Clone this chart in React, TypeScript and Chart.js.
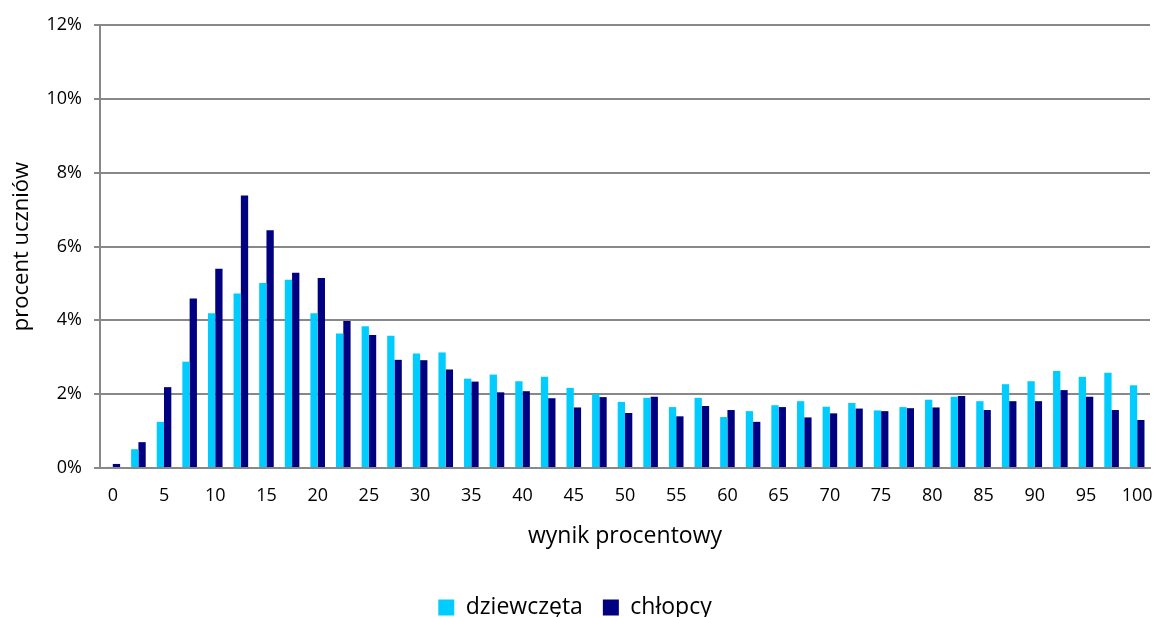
import React, { useEffect, useRef } from "react";
import { Chart, registerables } from "chart.js";

Chart.register(...registerables);

const categories: string[] = [
  "0", "2.5", "5", "7.5", "10", "12.5", "15", "17.5", "20", "22.5",
  "25", "27.5", "30", "32.5", "35", "37.5", "40", "42.5", "45", "47.5",
  "50", "52.5", "55", "57.5", "60", "62.5", "65", "67.5", "70", "72.5",
  "75", "77.5", "80", "82.5", "85", "87.5", "90", "92.5", "95", "97.5", "100",
];

const dziewczeta: number[] = [
  0.03, 0.51, 1.25, 2.88, 4.19, 4.73, 5.01, 5.10, 4.19, 3.64,
  3.84, 3.58, 3.10, 3.13, 2.42, 2.53, 2.35, 2.47, 2.17, 2.00,
  1.79, 1.90, 1.65, 1.90, 1.38, 1.54, 1.70, 1.81, 1.66, 1.76,
  1.56, 1.65, 1.85, 1.93, 1.81, 2.27, 2.35, 2.63, 2.47, 2.58, 2.24,
];

const chlopcy: number[] = [
  0.11, 0.70, 2.19, 4.59, 5.40, 7.38, 6.44, 5.29, 5.15, 3.98,
  3.60, 2.93, 2.92, 2.67, 2.34, 2.05, 2.08, 1.89, 1.64, 1.92,
  1.49, 1.93, 1.40, 1.68, 1.57, 1.25, 1.65, 1.37, 1.48, 1.61,
  1.54, 1.62, 1.64, 1.95, 1.57, 1.81, 1.81, 2.11, 1.93, 1.57, 1.30,
];

const yTicks: number[] = [0, 2, 4, 6, 8, 10, 12];

const FONT = "'Open Sans', 'Noto Sans', sans-serif";

const legendShift = {
  id: "legendShift",
  afterLayout(chart: any) {
    const lg = chart.legend;
    if (lg) {
      lg.top += 12;
      lg.bottom += 12;
    }
  },
};

export default function App() {
  const ref = useRef<HTMLCanvasElement | null>(null);

  useEffect(() => {
    document.body.style.margin = "0";
    if (!ref.current) return;
    const chart = new Chart(ref.current, {
      type: "bar",
      data: {
        labels: categories,
        datasets: [
          {
            label: "dziewczęta",
            data: dziewczeta,
            backgroundColor: "#00CCFF",
            categoryPercentage: 0.57,
            barPercentage: 1.0,
          },
          {
            label: "chłopcy",
            data: chlopcy,
            backgroundColor: "#000080",
            categoryPercentage: 0.57,
            barPercentage: 1.0,
          },
        ],
      },
      plugins: [legendShift],
      options: {
        animation: false,
        responsive: false,
        maintainAspectRatio: false,
        layout: { padding: { left: 0, right: 5, top: 25, bottom: 0 } },
        plugins: {
          tooltip: { enabled: false },
          legend: {
            position: "bottom",
            labels: {
              font: { family: FONT, size: 23, lineHeight: 1 },
              color: "#000",
              boxWidth: 16,
              boxHeight: 16,
              padding: 20,
            },
          },
        },
        scales: {
          x: {
            grid: { display: false, drawTicks: false },
            border: { display: true, color: "#888", width: 2 },
            ticks: {
              autoSkip: false,
              maxRotation: 0,
              minRotation: 0,
              padding: 17,
              color: "#000",
              font: { family: FONT, size: 18 },
              callback: (_v: any, i: number) => (i % 2 === 0 ? categories[i] : ""),
            },
            title: {
              display: true,
              text: "wynik procentowy",
              color: "#000",
              font: { family: FONT, size: 23 },
              padding: { top: 0, bottom: 14 },
            },
            afterFit: (s: any) => {
              s.height = 96;
              s.paddingRight = 0;
            },
          },
          y: {
            min: 0,
            max: 12,
            afterBuildTicks: (s: any) => {
              s.ticks = yTicks.map((v) => ({ value: v }));
            },
            grid: { color: "#888", lineWidth: 2, tickLength: 6, drawTicks: true },
            border: { display: true, color: "#888", width: 2 },
            ticks: {
              color: "#000",
              padding: 12,
              font: { family: FONT, size: 18 },
              callback: (v: any) => v + "%",
            },
            title: {
              display: true,
              text: "procent uczniów",
              color: "#000",
              font: { family: FONT, size: 22 },
              padding: { top: 9, bottom: 0 },
            },
            afterFit: (s: any) => {
              s.width = 100;
            },
          },
        },
      },
    });
    return () => chart.destroy();
  }, []);

  return (
    <div style={{ width: 1155, height: 617 }}>
      <canvas ref={ref} width={1155} height={617} style={{ width: 1155, height: 617 }} />
    </div>
  );
}
